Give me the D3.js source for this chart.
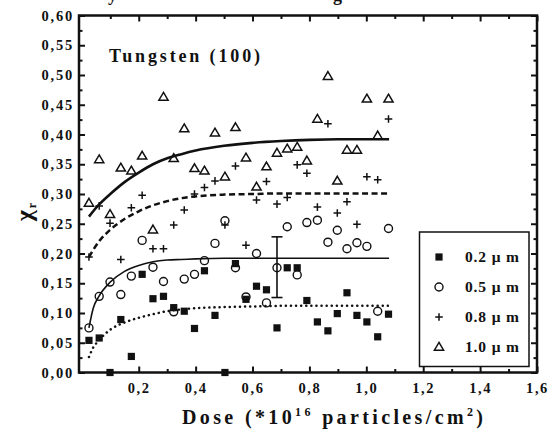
<!DOCTYPE html>
<html>
<head>
<meta charset="utf-8">
<script src="https://cdn.jsdelivr.net/npm/d3@7"></script>
<style>
  body { margin: 0; background: #fff; }
  svg text { font-family: "Liberation Serif", "Times New Roman", serif; font-weight: bold; fill: #111; }
</style>
</head>
<body>
<div id="chart"></div>
<script>
// ** measured points, one dose array shared by the four grain sizes
const doses = [0.025, 0.061, 0.099, 0.137, 0.174, 0.212, 0.25, 0.287, 0.323, 0.36,
  0.396, 0.431, 0.468, 0.503, 0.54, 0.577, 0.614, 0.649, 0.686, 0.722,
  0.757, 0.791, 0.828, 0.865, 0.898, 0.932, 0.967, 1.002, 1.04, 1.078];
const chi02 = [0.054, 0.058, 0.0, 0.089, 0.027, 0.165, 0.124, 0.128, 0.109, 0.103,
  0.074, 0.171, 0.096, 0.0, 0.183, 0.123, 0.145, 0.139, 0.075, 0.176,
  0.176, 0.121, 0.085, 0.070, 0.099, 0.134, 0.096, 0.085, 0.060, 0.098];
const chi05 = [0.075, 0.128, 0.152, 0.131, 0.162, 0.222, 0.177, 0.153, 0.102, 0.157,
  0.165, 0.188, 0.217, 0.255, 0.176, 0.127, 0.200, 0.117, 0.176, 0.245,
  0.164, 0.252, 0.256, 0.219, 0.239, 0.208, 0.218, 0.212, 0.103, 0.242];
const chi08 = [0.194, 0.280, 0.251, 0.190, 0.277, 0.298, 0.208, 0.208, 0.248, 0.273,
  0.300, 0.311, 0.322, 0.248, 0.347, 0.214, 0.290, 0.321, 0.283, 0.294,
  0.349, 0.335, 0.278, 0.418, 0.268, 0.287, 0.249, 0.329, 0.324, 0.426];
const chi10 = [0.285, 0.358, 0.266, 0.344, 0.339, 0.364, 0.240, 0.463, 0.360, 0.410,
  0.343, 0.339, 0.403, 0.329, 0.412, 0.361, 0.312, 0.346, 0.369, 0.376,
  0.379, 0.356, 0.426, 0.498, 0.322, 0.374, 0.374, 0.460, 0.398, 0.460];

// ** fitted curves
const fitDose = [0.025, 0.04, 0.06, 0.1, 0.15, 0.2, 0.25, 0.3, 0.35, 0.4, 0.5, 0.6, 0.7, 0.8, 0.9, 1.0, 1.08];
const fit02 = [0.026, 0.042, 0.054, 0.072, 0.084, 0.092, 0.098, 0.103, 0.106, 0.108, 0.110, 0.111, 0.112, 0.112, 0.112, 0.112, 0.112];
const fit05 = [0.075, 0.108, 0.128, 0.152, 0.170, 0.180, 0.186, 0.189, 0.190, 0.191, 0.192, 0.192, 0.192, 0.192, 0.192, 0.192, 0.192];
const fit08 = [0.194, 0.206, 0.220, 0.240, 0.258, 0.271, 0.281, 0.288, 0.293, 0.296, 0.299, 0.300, 0.301, 0.301, 0.301, 0.301, 0.301];
const fit10 = [0.262, 0.271, 0.282, 0.300, 0.320, 0.336, 0.350, 0.360, 0.367, 0.373, 0.381, 0.386, 0.389, 0.391, 0.392, 0.392, 0.392];

// ** one error bar
const errDose = 0.686;
const errLow = 0.126;
const errHigh = 0.228;

const sizeLabels = ['0.2', '0.5', '0.8', '1.0'];
const xTicks = [0.2, 0.4, 0.6, 0.8, 1.0, 1.2, 1.4, 1.6];
const yTicks = [0, 0.05, 0.1, 0.15, 0.2, 0.25, 0.3, 0.35, 0.4, 0.45, 0.5, 0.55, 0.6];

const W = 549, H = 430;
const m = { left: 79, right: 12, top: 15.5, bottom: 57.5 };
const ink = '#111';
const serif = '"Liberation Serif", "Times New Roman", serif';

const svg = d3.select('#chart').append('svg').attr('width', W).attr('height', H);

const x = d3.scaleLinear().domain([-0.01, 1.6]).range([m.left, W - m.right]);
const y = d3.scaleLinear().domain([0, 0.6]).range([H - m.bottom, m.top]);

const comma = f => v => d3.format(f)(v).replace('.', ',');
const xMinor = d3.range(1, 16, 2).map(v => v / 10);
const yMinor = d3.range(1, 24, 2).map(v => v * 0.025);

//** axes, all ticks pointing inward
function styleAxis(g) {
  g.attr('font-family', serif);
  g.select('.domain').remove();
  g.selectAll('line').attr('stroke', ink).attr('stroke-width', 2);
}
svg.append('g').attr('transform', 'translate(0,' + y(0) + ')')
  .call(d3.axisBottom(x).tickValues(xTicks).tickSizeInner(-6).tickSizeOuter(0)
    .tickPadding(10).tickFormat(comma('.1f')))
  .call(styleAxis)
  .selectAll('text').attr('font-size', 14.5).attr('letter-spacing', 1.6).attr('fill', ink)
  .style('font-family', serif);
svg.append('g').attr('transform', 'translate(0,' + y(0) + ')')
  .call(d3.axisBottom(x).tickValues(xMinor).tickSize(-3.5).tickFormat(''))
  .call(styleAxis);
svg.append('g').attr('transform', 'translate(0,' + y(0.6) + ')')
  .call(d3.axisTop(x).tickValues(xTicks).tickSize(-6).tickFormat(''))
  .call(styleAxis);
svg.append('g').attr('transform', 'translate(0,' + y(0.6) + ')')
  .call(d3.axisTop(x).tickValues(xMinor).tickSize(-3.5).tickFormat(''))
  .call(styleAxis);
svg.append('g').attr('transform', 'translate(' + x.range()[0] + ',0)')
  .call(d3.axisLeft(y).tickValues(yTicks).tickSizeInner(-6).tickSizeOuter(0)
    .tickPadding(5).tickFormat(comma('.2f')))
  .call(styleAxis)
  .selectAll('text').attr('font-size', 14.5).attr('letter-spacing', 1.8).attr('fill', ink)
  .style('font-family', serif);
svg.append('g').attr('transform', 'translate(' + x.range()[0] + ',0)')
  .call(d3.axisLeft(y).tickValues(yMinor).tickSize(-3.5).tickFormat(''))
  .call(styleAxis);
svg.append('g').attr('transform', 'translate(' + x.range()[1] + ',0)')
  .call(d3.axisRight(y).tickValues(yTicks).tickSize(-6).tickFormat(''))
  .call(styleAxis);
svg.append('g').attr('transform', 'translate(' + x.range()[1] + ',0)')
  .call(d3.axisRight(y).tickValues(yMinor).tickSize(-3.5).tickFormat(''))
  .call(styleAxis);

//** frame
svg.append('rect')
  .attr('x', x.range()[0]).attr('y', y(0.6))
  .attr('width', x.range()[1] - x.range()[0]).attr('height', y(0) - y(0.6))
  .attr('fill', 'none').attr('stroke', ink).attr('stroke-width', 2.5);

//** fitted curves
const line = d3.line().x(d => x(d[0])).y(d => y(d[1])).curve(d3.curveMonotoneX);
const fits = [
  { v: fit02, w: 2.5, dash: '0.1,5', cap: 'round' },
  { v: fit05, w: 1.6, dash: null, cap: 'butt' },
  { v: fit08, w: 2.5, dash: '6,3.5', cap: 'butt' },
  { v: fit10, w: 2.6, dash: null, cap: 'butt' }
];
fits.forEach(f => {
  svg.append('path')
    .attr('d', line(fitDose.map((d, i) => [d, f.v[i]])))
    .attr('fill', 'none').attr('stroke', ink)
    .attr('stroke-width', f.w)
    .attr('stroke-linecap', f.cap)
    .attr('stroke-dasharray', f.dash);
});

//** error bar
const cap = 5.5;
const eg = svg.append('g').attr('stroke', ink).attr('stroke-width', 1.6);
eg.append('line').attr('x1', x(errDose)).attr('x2', x(errDose)).attr('y1', y(errLow)).attr('y2', y(errHigh));
[errLow, errHigh].forEach(v => {
  eg.append('line').attr('x1', x(errDose) - cap).attr('x2', x(errDose) + cap).attr('y1', y(v)).attr('y2', y(v));
});

//** markers
const marks = {
  square: g => g.append('rect').attr('x', -3.6).attr('y', -3.6).attr('width', 7.2).attr('height', 7.2)
    .attr('fill', ink),
  circle: g => g.append('circle').attr('r', 4).attr('fill', 'none').attr('stroke', ink).attr('stroke-width', 1.4),
  plus: g => g.append('path').attr('d', 'M-3.8,0H3.8M0,-3.8V3.8').attr('stroke', ink).attr('stroke-width', 1.5),
  triangle: g => g.append('path').attr('d', 'M0,-4.6L4.6,3.2L-4.6,3.2Z').attr('fill', 'none')
    .attr('stroke', ink).attr('stroke-width', 1.5).attr('stroke-linejoin', 'miter')
};
const series = [
  { v: chi02, mark: 'square' },
  { v: chi05, mark: 'circle' },
  { v: chi08, mark: 'plus' },
  { v: chi10, mark: 'triangle' }
];
series.forEach(s => {
  svg.append('g').selectAll('g').data(doses.map((d, i) => [d, s.v[i]])).enter().append('g')
    .attr('transform', d => 'translate(' + x(d[0]) + ',' + y(d[1]) + ')')
    .each(function() { marks[s.mark](d3.select(this)); });
});

//** inner label
svg.append('text').attr('x', 109).attr('y', 62).attr('font-size', 18)
  .style('font-family', serif)
  .attr('textLength', 151).attr('lengthAdjust', 'spacing')
  .text('Tungsten (100)');

//** legend
const lg = svg.append('g');
lg.append('rect').attr('x', 419.5).attr('y', 232).attr('width', 109.5).attr('height', 134.5)
  .attr('fill', '#fff').attr('stroke', ink).attr('stroke-width', 1.5);
series.forEach((s, i) => {
  const cy = 257 + i * 30;
  marks[s.mark](lg.append('g').attr('transform', 'translate(439,' + cy + ')'));
  lg.append('text').attr('x', 465).attr('y', cy + 5).attr('font-size', 15.5)
    .style('font-family', serif)
    .attr('textLength', 54).attr('lengthAdjust', 'spacing')
    .text(sizeLabels[i] + ' \u03bc m');
});

//** axis titles
const xt = svg.append('text').attr('x', 182).attr('y', 424).attr('font-size', 20)
  .style('font-family', serif)
  .attr('textLength', 301).attr('lengthAdjust', 'spacing');
xt.append('tspan').text('Dose (*10');
xt.append('tspan').attr('dy', -8).attr('font-size', 12).text('16');
xt.append('tspan').attr('dy', 8).text(' particles/cm');
xt.append('tspan').attr('dy', -8).attr('font-size', 12).text('2');
xt.append('tspan').attr('dy', 8).text(')');

const yt = svg.append('text').attr('transform', 'translate(32,212) rotate(-90)')
  .style('font-family', serif)
  .attr('text-anchor', 'middle').attr('font-size', 24);
yt.append('tspan').text('\u03c7');
yt.append('tspan').attr('dy', 4).attr('dx', 2).attr('font-size', 12).text('r');

//** cut-off caption fragments at the very top of the scan
svg.append('text').attr('x', 108).attr('y', 1).attr('font-size', 18).attr('font-weight', 'normal').text('y');
svg.append('text').attr('x', 333).attr('y', 1).attr('font-size', 18).attr('font-weight', 'normal').text('g');
</script>
</body>
</html>
